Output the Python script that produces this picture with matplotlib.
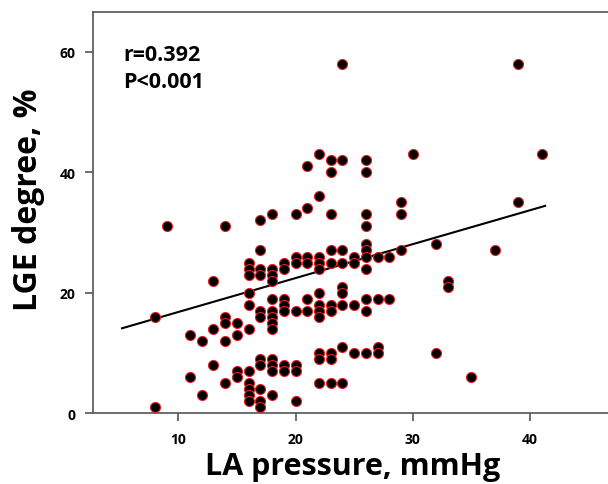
import numpy as np
import matplotlib
matplotlib.use('Agg')
from matplotlib import pyplot as plt

# LA pressure (mmHg) and LGE degree (%)
la_pressure = [8, 8, 9, 11, 11, 12, 12, 13, 13, 13,
               14, 14, 14, 14, 14, 15, 15, 15, 15]
lge_degree = [16, 1, 31, 13, 6, 12, 3, 22, 14, 8,
              31, 16, 15, 12, 5, 15, 13, 7, 6]

# denser columns kept per x value
columns = {
    16: [25, 24, 23, 20, 18, 14, 7, 5, 4, 3, 2],
    17: [32, 27, 24, 23, 17, 16, 9, 8, 4, 2, 1],
    18: [33, 24, 23, 22, 19, 17, 16, 15, 14, 9, 8, 7, 3],
    19: [25, 24, 19, 18, 17, 8, 7],
    20: [33, 26, 25, 17, 8, 7, 2],
    21: [41, 34, 26, 25, 19, 17],
    22: [43, 36, 26, 25, 24, 20, 18, 17, 16, 10, 9, 5],
    23: [42, 40, 33, 27, 25, 18, 17, 10, 9, 5],
    24: [58, 42, 27, 25, 21, 20, 18, 11, 5],
    25: [26, 25, 18, 10],
    26: [42, 40, 33, 31, 28, 27, 26, 24, 19, 17, 10],
    27: [26, 19, 11, 10],
    28: [26, 19],
    29: [35, 33, 27],
    30: [43],
    32: [28, 10],
    33: [22, 21],
    35: [6],
    37: [27],
    39: [58, 35],
    41: [43],
}
for k, vals in columns.items():
    for v in vals:
        la_pressure.append(k)
        lge_degree.append(v)

# fit line end points as drawn
fit_x = [5.2, 41.3]
fit_y = [14.1, 34.4]

r_text = 'r=0.392'
p_text = 'P<0.001'

plt.rcParams['font.family'] = ['Open Sans', 'DejaVu Sans']

W, H = 608, 485
fig = plt.figure(figsize=(W / 100, H / 100), dpi=100)
ax = fig.add_axes([0.1535, 0.1458, 0.853, 0.828])

ax.scatter(la_pressure, lge_degree, s=52, c='black', edgecolors='#e02020',
           linewidths=0.8, zorder=3)
ax.plot(fit_x, fit_y, color='black', lw=1.5, zorder=2)

ax.set_xlim(2.75, 47)
ax.set_ylim(0, 66.6)
ax.set_xticks([10, 20, 30, 40])
ax.set_yticks([0, 20, 40, 60])

for s in ax.spines.values():
    s.set_color('#555555')
    s.set_linewidth(1.2)

ax.tick_params(axis='y', length=6, width=1.2, color='#555555', pad=7)
ax.tick_params(axis='x', length=5.5, width=1.2, color='#555555', pad=8)
for lab in ax.get_xticklabels() + ax.get_yticklabels():
    lab.set_fontweight('bold')
    lab.set_fontsize(10)

# axis titles placed in figure pixels
fig.text(353 / W, 1 - 475 / H, 'LA pressure, mmHg', fontsize=22,
         fontweight='bold', ha='center', va='baseline')
fig.text(28.5 / W, 1 - 200 / H, 'LGE degree, %', fontsize=23,
         fontweight='bold', ha='center', va='center', rotation=90)

ax.text(0.0578, 0.8805, r_text, transform=ax.transAxes, fontsize=15.5,
        fontweight='bold', va='baseline')
ax.text(0.0578, 0.8133, p_text, transform=ax.transAxes, fontsize=15.5,
        fontweight='bold', va='baseline')

fig.savefig('out.png', dpi=100)
